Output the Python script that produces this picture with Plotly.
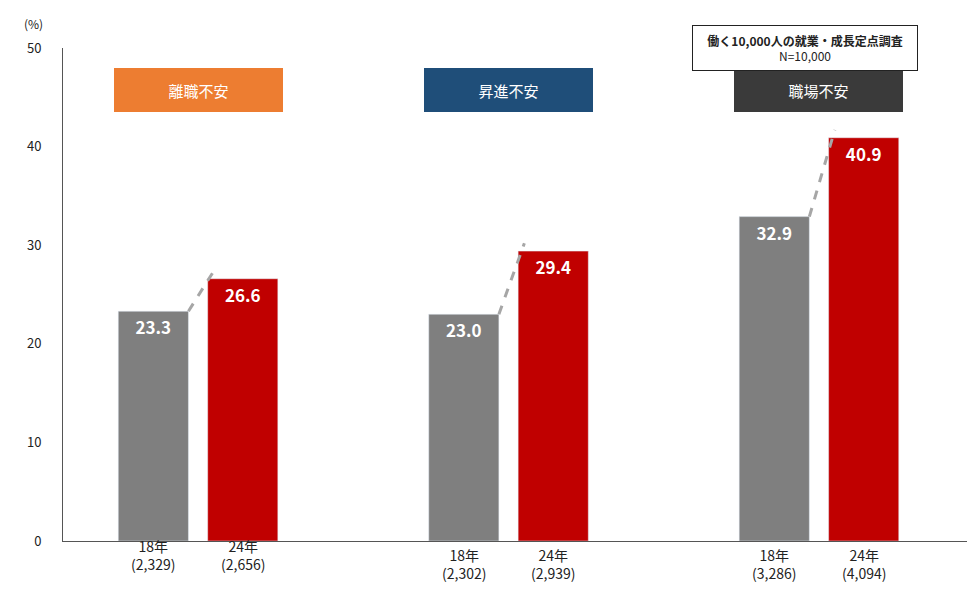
import plotly.graph_objects as go

groups = ["離職不安", "昇進不安", "職場不安"]
group_colors = ["#ed7d31", "#1f4e79", "#3a3a3a"]
vals_18 = [23.3, 23.0, 32.9]
vals_24 = [26.6, 29.4, 40.9]
n_18 = ["2,329", "2,302", "3,286"]
n_24 = ["2,656", "2,939", "4,094"]

FONT = "Noto Sans CJK JP"
off = 0.144
w = 0.226
g = list(range(len(groups)))

fig = go.Figure()
fig.add_trace(go.Bar(x=[i - off for i in g], y=vals_18, width=w, marker_color="#7f7f7f",
                     text=[f"<b>{v:.1f}</b>" for v in vals_18], textposition="inside",
                     insidetextanchor="end", textfont=dict(color="white", size=17, family=FONT)))
fig.add_trace(go.Bar(x=[i + off for i in g], y=vals_24, width=w, marker_color="#c00000",
                     text=[f"<b>{v:.1f}</b>" for v in vals_24], textposition="inside",
                     insidetextanchor="end", textfont=dict(color="white", size=17, family=FONT)))

# dashed connectors
for i in g:
    fig.add_trace(go.Scatter(x=[i - off + w / 2, i + off - w / 2 + 0.02],
                             y=[vals_18[i], vals_24[i] + 0.8], mode="lines",
                             line=dict(color="#a6a6a6", width=3, dash="dash"), hoverinfo="skip"))

# group label boxes
for i in g:
    fig.add_annotation(x=i, y=45.7, text=groups[i], showarrow=False,
                       font=dict(color="white", size=15, family=FONT),
                       bgcolor=group_colors[i], bordercolor=group_colors[i],
                       width=165, height=40)
    ylab = -0.07 if i == 0 else -0.09
    fig.add_annotation(x=i - off, y=ylab, yref="paper", text=f"18年<br>({n_18[i]})", showarrow=False,
                       font=dict(size=14, family=FONT, color="#222"))
    fig.add_annotation(x=i + off, y=ylab, yref="paper", text=f"24年<br>({n_24[i]})", showarrow=False,
                       font=dict(size=14, family=FONT, color="#222"))

fig.add_annotation(xref="paper", yref="paper", x=0.82, y=1.0, xanchor="center", yanchor="middle",
                   text="<b>働く10,000人の就業・成長定点調査</b><br>N=10,000", showarrow=False,
                   font=dict(size=12, family=FONT, color="#222"), bgcolor="white",
                   bordercolor="#222", borderwidth=1, width=222, height=42)
fig.add_annotation(xref="paper", yref="paper", x=-0.045, y=1.07, text="(%)", showarrow=False,
                   font=dict(size=12, family=FONT, color="#222"))

fig.update_layout(
    width=975, height=600, margin=dict(l=55, r=15, t=40, b=67),
    plot_bgcolor="white", paper_bgcolor="white", showlegend=False,
    xaxis=dict(range=[-0.435, 2.48], showticklabels=False, showgrid=False, zeroline=False,
               showline=True, linecolor="#555", linewidth=1),
    yaxis=dict(range=[0, 50], dtick=10, showgrid=False, zeroline=False, showline=True,
               linecolor="#555", linewidth=1, ticks="", ticklabelstandoff=18,
               tickfont=dict(size=13, family=FONT, color="#222")),
    font=dict(family=FONT),
)
fig.write_html("out.html")
